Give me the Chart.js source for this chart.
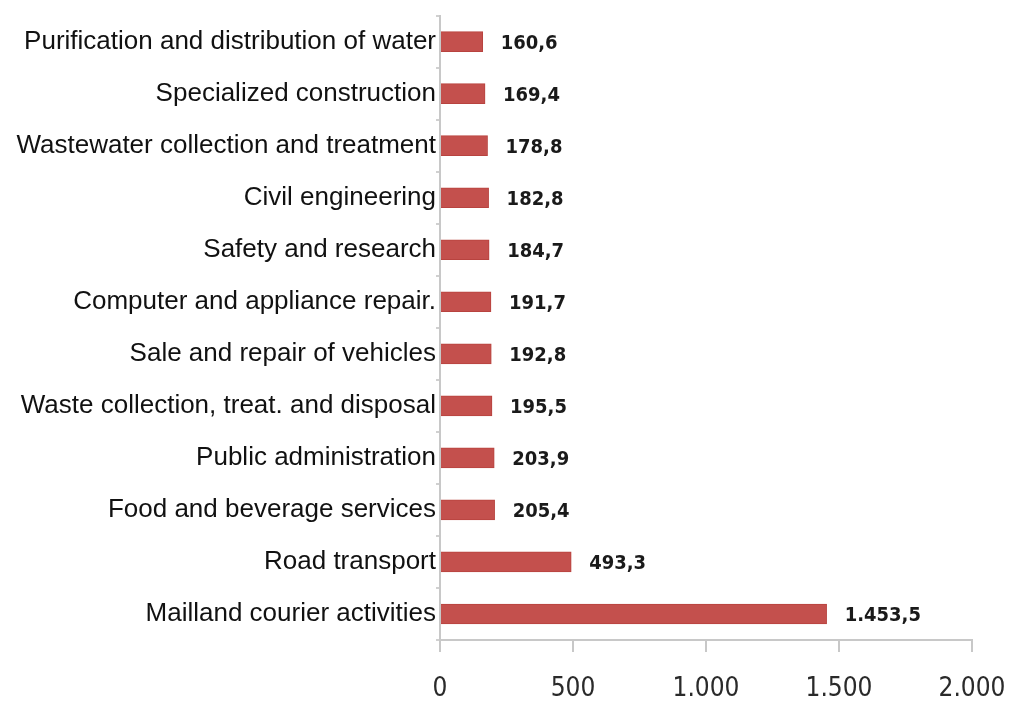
<!DOCTYPE html>
<html>
<head>
<meta charset="utf-8">
<script src="https://cdn.jsdelivr.net/npm/chart.js@4.4.1/dist/chart.umd.min.js"></script>
<style>
html,body{margin:0;padding:0;background:#fff;}
#wrap{width:1010px;height:707px;position:relative;}
</style>
</head>
<body>
<div id="wrap"><canvas id="c" width="1010" height="707"></canvas></div>
<script>
const categories = [
  "Purification and distribution of water",
  "Specialized construction",
  "Wastewater collection and treatment",
  "Civil engineering",
  "Safety and research",
  "Computer and appliance repair.",
  "Sale and repair of vehicles",
  "Waste collection, treat. and disposal",
  "Public administration",
  "Food and beverage services",
  "Road transport",
  "Mailland courier activities"
];
const values = [160.6, 169.4, 178.8, 182.8, 184.7, 191.7, 192.8, 195.5, 203.9, 205.4, 493.3, 1453.5];
const xTicks = [0, 500, 1000, 1500, 2000];

function fmt(v, dec) {
  const parts = v.toFixed(dec).split('.');
  parts[0] = parts[0].replace(/\B(?=(\d{3})+(?!\d))/g, '.');
  return parts.join(',');
}

const narrow = '"DejaVu Sans Condensed", "Liberation Sans", sans-serif';

const valueLabels = {
  id: 'valueLabels',
  afterDatasetsDraw(chart) {
    const ctx = chart.ctx;
    const meta = chart.getDatasetMeta(0);
    ctx.save();
    ctx.font = 'bold 20px ' + narrow;
    ctx.fillStyle = '#1a1a1a';
    ctx.textAlign = 'left';
    ctx.textBaseline = 'middle';
    meta.data.forEach((bar, i) => {
      ctx.fillText(fmt(values[i], 1), bar.x + 18, bar.y + 2);
    });
    ctx.restore();
  }
};

new Chart(document.getElementById('c'), {
  type: 'bar',
  data: {
    labels: categories,
    datasets: [{
      data: values,
      backgroundColor: '#C4504D',
      borderColor: '#B8433F',
      borderWidth: 1,
      barThickness: 20
    }]
  },
  options: {
    indexAxis: 'y',
    responsive: false,
    animation: false,
    layout: { padding: { left: 0, right: 38, top: 13, bottom: 0 } },
    plugins: { legend: { display: false }, tooltip: { enabled: false } },
    scales: {
      x: {
        min: 0, max: 2000,
        afterBuildTicks(scale) { scale.ticks = xTicks.map(v => ({ value: v })); },
        afterFit(scale) { scale.height = 67; scale.paddingRight = 0; scale.paddingLeft = 0; },
        grid: { drawOnChartArea: false, drawTicks: true, tickLength: 12, color: '#c8c8c8', lineWidth: 2 },
        border: { color: '#c8c8c8', width: 2 },
        ticks: {
          padding: 22,
          color: '#2a2a2a',
          font: { family: narrow, size: 26 },
          maxRotation: 0,
          callback: (v) => fmt(v, 0)
        }
      },
      y: {
        afterFit(scale) { scale.width = 440; },
        grid: { drawOnChartArea: false, drawTicks: true, tickLength: 4, color: '#d0d0d0', lineWidth: 2 },
        border: { color: '#c8c8c8', width: 2 },
        ticks: {
          padding: 0,
          color: '#111',
          font: { family: '"Liberation Sans", Arial, sans-serif', size: 26 },
          autoSkip: false
        }
      }
    }
  },
  plugins: [valueLabels]
});
</script>
</body>
</html>
